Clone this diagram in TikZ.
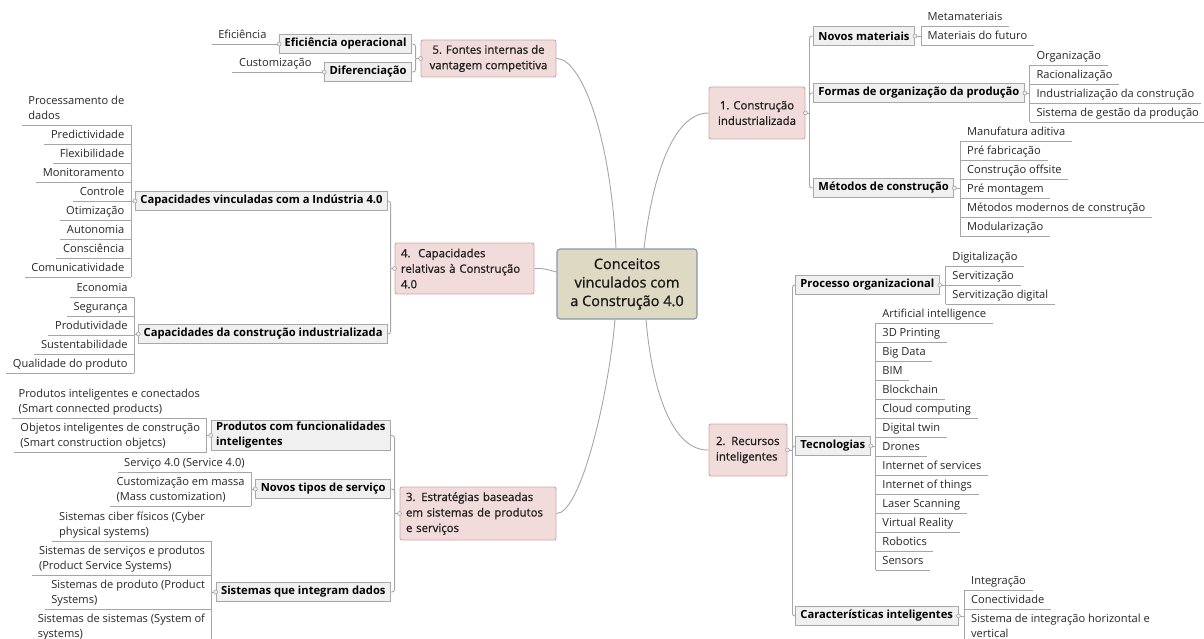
\documentclass[tikz,border=0pt]{standalone}
\usepackage{fontspec}
\setmainfont{Open Sans}
\newfontfamily\topicfont[FakeBold=0.9]{Open Sans}
\definecolor{pinkfill}{HTML}{F2DCDB}
\definecolor{pinkdraw}{HTML}{C9A9A8}
\definecolor{cfill}{HTML}{DDD9C3}
\definecolor{cdraw}{HTML}{8797AD}
\definecolor{boxfill}{HTML}{F0F0F0}
\definecolor{boxdraw}{HTML}{A8A8A8}
\definecolor{ln}{HTML}{A6A6A6}
\definecolor{txt}{HTML}{262626}
\newcommand\ml[1]{\begin{tabular}[b]{@{}l@{}}#1\end{tabular}}
\newcommand\leavesR[3]{%
  \path (#1.east) ++(#2,0) coordinate (#1-s);
  \foreach \t/\yy [count=\i] in {#3} {
    \node[leaf, anchor=south west] (#1-\i) at (#1-s |- 0,\yy) {\t};
    \draw[conn] (#1-\i.south west) -- (#1-\i.south east);
    \xdef\lastcount{\i}
  }
  \draw[conn] (#1-1.south west) -- (#1-\lastcount.south west);
  \draw[conn] (#1.east) -- (#1-s |- #1.east);
  \node[knob] at (#1.east) {};
}
\newcommand\leavesL[3]{%
  \path (#1.west) ++(-#2,0) coordinate (#1-s);
  \foreach \t/\yy [count=\i] in {#3} {
    \node[leaf, anchor=south east] (#1-\i) at (#1-s |- 0,\yy) {\t};
    \draw[conn] (#1-\i.south west) -- (#1-\i.south east);
    \xdef\lastcount{\i}
  }
  \draw[conn] (#1-1.south east) -- (#1-\lastcount.south east);
  \draw[conn] (#1.west) -- (#1-s |- #1.west);
  \node[knob] at (#1.west) {};
}
\tikzset{
  central/.style={draw=cdraw, fill=cfill, rounded corners=3, line width=1.1,
    minimum width=140, minimum height=70, align=center, inner sep=0,
    font=\topicfont\fontsize{14.5}{18.5}\selectfont, text=black!90},
  topic/.style={draw=pinkdraw, fill=pinkfill, rounded corners=2, line width=0.9,
    font=\topicfont\fontsize{11.4}{15.5}\selectfont, text=black!88},
  sub/.style={draw=boxdraw, fill=boxfill, line width=0.9, inner xsep=5, inner ysep=2,
    minimum height=18.5, font=\fontsize{11.2}{15}\selectfont\bfseries, text=black},
  leaf/.style={inner xsep=6.5, inner ysep=3, text depth=2.5,
    font=\fontsize{11.1}{15}\selectfont, text=txt},
  conn/.style={draw=ln, line width=0.9},
  curve/.style={draw=ln, line width=0.9},
  knob/.style={circle, draw=ln, fill=boxfill, line width=0.6, inner sep=0, minimum size=4}
}
\begin{document}
\begin{tikzpicture}[x=1pt,y=-1pt]
\useasboundingbox (0,0) rectangle (1204,639);
\clip (0,0) rectangle (1204,639);

% central and main topics
\node[central] (c) at (627,284) {Conceitos\\vinculados com\\a Construção 4.0};
\node[topic, minimum width=96, minimum height=52, align=center] (n1) at (757,113) {1. Construção\\industrializada};
\node[topic, text width=64, inner xsep=7, align=left, minimum height=52] (n2) at (748,450) {2. Recursos\\inteligentes};
\node[topic, text width=144, inner xsep=6, align=left, minimum height=53] (n3) at (478,513.5) {3. Estratégias baseadas\\em sistemas de produtos\\e serviços};
\node[topic, text width=127, inner xsep=6, align=left, minimum height=51] (n4) at (464.5,268.5) {4.\ \ Capacidades\\relativas à Construção\\4.0};
\node[topic, minimum width=135, minimum height=37, align=center] (n5) at (488.5,58.5) {5. Fontes internas de\\vantagem competitiva};

% curved connectors from the centre
\draw[curve] ([xshift=17]c.north) .. controls (652,180) and (672,113) .. (n1.west);
\draw[curve] ([xshift=-11]c.north) .. controls (610,130) and (580,58) .. (n5.east);
\draw[curve] ([yshift=12]c.west) .. controls (548,270) and (545,268) .. (n4.east);
\draw[curve] ([xshift=-12]c.south) .. controls (608,400) and (580,514) .. (n3.east);
\draw[curve] ([xshift=19]c.south) .. controls (652,390) and (672,451) .. (n2.west);

% second level
\node[sub, anchor=west] (nm) at (813,36) {Novos materiais};
\node[sub, anchor=west] (fo) at (813,93) {Formas de organização da produção};
\node[sub, anchor=west] (me) at (813,188) {Métodos de construção};
\node[sub, anchor=west] (po) at (795,285) {Processo organizacional};
\node[sub, anchor=west] (te) at (795,446) {Tecnologias};
\node[sub, anchor=west] (ca) at (795,616) {Características inteligentes};
\node[sub, anchor=east] (eo) at (412,44) {Eficiência operacional};
\node[sub, anchor=east] (di) at (412,72) {Diferenciação};
\node[sub, anchor=east] (cv) at (388,201) {Capacidades vinculadas com a Indústria 4.0};
\node[sub, anchor=east] (cc) at (388,334) {Capacidades da construção industrializada};
\node[sub, anchor=east, align=left] (pf) at (391,435.5) {Produtos com funcionalidades\\inteligentes};
\node[sub, anchor=east] (nt) at (391,489) {Novos tipos de serviço};
\node[sub, anchor=east] (si) at (391,592) {Sistemas que integram dados};

% topic -> second level connectors
\coordinate (n1s) at ([xshift=4]n1.east);
\draw[conn] (n1.east) -- (n1s);
\foreach \k in {nm,fo,me} \draw[conn, rounded corners=2.5] (n1s) |- (\k.west);
\coordinate (n2s) at ([xshift=5]n2.east);
\draw[conn] (n2.east) -- (n2s);
\foreach \k in {po,te,ca} \draw[conn, rounded corners=2.5] (n2s) |- (\k.west);
\coordinate (n3s) at ([xshift=-5]n3.west);
\draw[conn] (n3.west) -- (n3s);
\foreach \k in {pf,nt,si} \draw[conn, rounded corners=2.5] (n3s) |- (\k.east);
\coordinate (n4s) at ([xshift=-4]n4.west);
\draw[conn] (n4.west) -- (n4s);
\foreach \k in {cv,cc} \draw[conn, rounded corners=2.5] (n4s) |- (\k.east);
\coordinate (n5s) at ([xshift=-5]n5.west);
\draw[conn] (n5.west) -- (n5s);
\foreach \k in {eo,di} \draw[conn, rounded corners=2.5] (n5s) |- (\k.east);
\node[knob] at (n1.east) {};
\node[knob] at (n2.east) {};
\node[knob] at (n3.west) {};
\node[knob] at (n4.west) {};
\node[knob] at (n5.west) {};

% leaves, right side
\leavesR{nm}{6}{Metamateriais/26, Materiais do futuro/45}
\leavesR{fo}{5}{Organização/65, Racionalização/84, Industrialização da construção/103, Sistema de gestão da produção/122}
\leavesR{me}{6}{Manufatura aditiva/141, Pré fabricação/160, Construção offsite/179, Pré montagem/198, Métodos modernos de construção/217, Modularização/236}
\leavesR{po}{6}{Digitalização/266, Servitização/285, Servitização digital/304}
\leavesR{te}{5}{Artificial intelligence/323, 3D Printing/342, Big Data/361, BIM/380, Blockchain/399, Cloud computing/418, Digital twin/437, Drones/456, Internet of services/475, Internet of things/494, Laser Scanning/513, Virtual Reality/532, Robotics/551, Sensors/570}
\leavesR{ca}{6}{Integração/590, Conectividade/609, \ml{Sistema de integração horizontal e\\vertical}/643}

% leaves, left side
\leavesL{eo}{6}{Eficiência/44}
\leavesL{di}{6}{Customização/72}
\leavesL{cv}{4}{\ml{Processamento de\\dados}/125, Predictividade/144, Flexibilidade/163, Monitoramento/182, Controle/201, Otimização/220, Autonomia/239, Consciência/258, Comunicatividade/277}
\leavesL{cc}{4}{Economia/297, Segurança/316, Produtividade/335, Sustentabilidade/354, Qualidade do produto/373}
\leavesL{pf}{4}{\ml{Produtos inteligentes e conectados\\(Smart connected products)}/418, \ml{Objetos inteligentes de construção\\(Smart construction objetcs)}/452}
\leavesL{nt}{4}{Serviço 4.0 (Service 4.0)/472, \ml{Customização em massa\\(Mass customization)}/506}
\leavesL{si}{4}{\ml{Sistemas ciber físicos (Cyber\\physical systems)}/541, \ml{Sistemas de serviços e produtos\\(Product Service Systems)}/575, \ml{Sistemas de produto (Product\\Systems)}/609, \ml{Sistemas de sistemas (System of\\systems)}/643}
\end{tikzpicture}
\end{document}
